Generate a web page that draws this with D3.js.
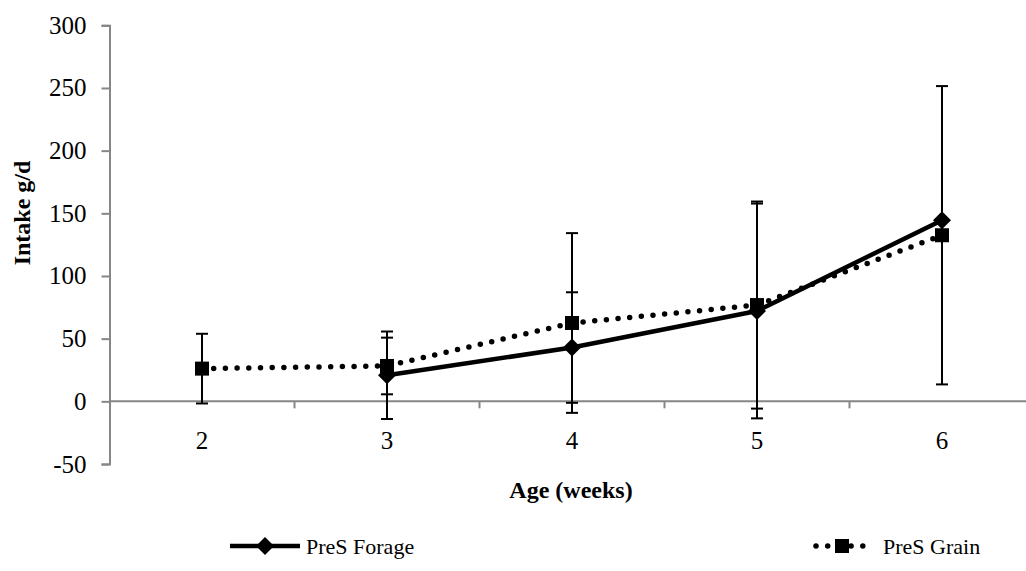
<!DOCTYPE html>
<html>
<head>
<meta charset="utf-8">
<script src="https://cdn.jsdelivr.net/npm/d3@7"></script>
<style>
  html, body { margin: 0; padding: 0; background: #fff; }
  svg { display: block; }
  text { font-family: "Liberation Serif", "Times New Roman", Times, serif; fill: #000; }
</style>
</head>
<body>
<svg id="chart" width="1026" height="571"></svg>
<script>
// Feed intake by age, two pre-weaning treatments (mean ± SD)
const ages = ["2", "3", "4", "5", "6"];
const forageMean = [null, 20.8, 42.9, 72.1, 144.5];
const forageSD   = [null, 34.9, 44.1, 85.7, null];
const grainMean  = [26.1, 28.2, 62.5, 76.8, 132.5];
const grainSD    = [27.8, 22.6, 71.7, 82.6, 119.0];
const yTicks = [-50, 0, 50, 100, 150, 200, 250, 300];
const seriesNames = ["PreS Forage", "PreS Grain"];

const svg = d3.select("#chart");

const x = d3.scaleBand().domain(ages).range([109.5, 1034.5]).paddingInner(0).paddingOuter(0);
const xc = d => x(d) + x.bandwidth() / 2;
const y = d3.scaleLinear().domain([-50, 300]).range([464, 25.3]);

const axisColor = "#868686";

// Y axis (plain hyphen for negatives)
const yAxis = svg.append("g").attr("transform", "translate(109.5,0)")
  .call(d3.axisLeft(y).tickValues(yTicks).tickSize(8).tickPadding(15).tickFormat(d => String(d)));
yAxis.attr("font-family", null);
yAxis.select(".domain").attr("stroke", axisColor).attr("stroke-width", 2);
yAxis.selectAll(".tick line").attr("stroke", axisColor).attr("stroke-width", 2);
yAxis.selectAll(".tick text").attr("font-size", 25);

// X axis along zero, ticks at category boundaries
const xAxisG = svg.append("g");
xAxisG.append("line")
  .attr("x1", 109.5).attr("x2", 1026).attr("y1", y(0)).attr("y2", y(0))
  .attr("stroke", axisColor).attr("stroke-width", 2);
const bounds = ages.map(a => x(a)).concat([x(ages[ages.length - 1]) + x.bandwidth()]);
xAxisG.selectAll("line.tk").data(bounds.slice(1)).join("line").attr("class", "tk")
  .attr("x1", d => d).attr("x2", d => d)
  .attr("y1", y(0)).attr("y2", y(0) + 7)
  .attr("stroke", axisColor).attr("stroke-width", 2);
xAxisG.selectAll("text").data(ages).join("text")
  .attr("x", d => xc(d)).attr("y", 449)
  .attr("text-anchor", "middle").attr("font-size", 25)
  .text(d => d);

// Axis titles
svg.append("text").attr("x", 571).attr("y", 498)
  .attr("text-anchor", "middle").attr("font-size", 24).attr("font-weight", "bold")
  .text("Age (weeks)");
svg.append("text").attr("transform", "translate(30,213) rotate(-90)")
  .attr("text-anchor", "middle").attr("font-size", 24).attr("font-weight", "bold")
  .text("Intake g/d");

// Build point records
const forage = ages.map((a, i) => ({ a, m: forageMean[i], sd: forageSD[i] })).filter(d => d.m != null);
const grain  = ages.map((a, i) => ({ a, m: grainMean[i], sd: grainSD[i] })).filter(d => d.m != null);

const line = d3.line().x(d => xc(d.a)).y(d => y(d.m));

// Error bars
function errorBars(data) {
  const g = svg.append("g").attr("stroke", "#000").attr("stroke-width", 2).attr("fill", "none");
  data.filter(d => d.sd != null).forEach(d => {
    const cx = xc(d.a), top = y(d.m + d.sd), bot = y(d.m - d.sd);
    g.append("line").attr("x1", cx).attr("x2", cx).attr("y1", top).attr("y2", bot);
    g.append("line").attr("x1", cx - 6).attr("x2", cx + 6).attr("y1", top).attr("y2", top);
    g.append("line").attr("x1", cx - 6).attr("x2", cx + 6).attr("y1", bot).attr("y2", bot);
  });
}
errorBars(grain);
errorBars(forage);

// Grain series: dotted line with squares
svg.append("path").datum(grain).attr("d", line)
  .attr("fill", "none").attr("stroke", "#000").attr("stroke-width", 5.5)
  .attr("stroke-linecap", "round").attr("stroke-dasharray", "0 11.7");
svg.selectAll("rect.grain").data(grain).join("rect").attr("class", "grain")
  .attr("x", d => xc(d.a) - 7).attr("y", d => y(d.m) - 7)
  .attr("width", 14).attr("height", 14).attr("fill", "#000");

// Forage series: solid line with diamonds
svg.append("path").datum(forage).attr("d", line)
  .attr("fill", "none").attr("stroke", "#000").attr("stroke-width", 4.5)
  .attr("stroke-linejoin", "round");
const diamond = "M0,-9L9,0L0,9L-9,0Z";
svg.selectAll("path.forage").data(forage).join("path").attr("class", "forage")
  .attr("d", diamond).attr("transform", d => `translate(${xc(d.a)},${y(d.m)})`)
  .attr("fill", "#000");

// Legend
const leg = svg.append("g");
const ly = 546;
leg.append("line").attr("x1", 230).attr("x2", 300).attr("y1", ly).attr("y2", ly)
  .attr("stroke", "#000").attr("stroke-width", 4.5);
leg.append("path").attr("d", diamond).attr("transform", `translate(265,${ly})`).attr("fill", "#000");
leg.append("text").attr("x", 306).attr("y", ly + 8).attr("font-size", 22).text(seriesNames[0]);

leg.append("line").attr("x1", 816).attr("x2", 868).attr("y1", ly).attr("y2", ly)
  .attr("stroke", "#000").attr("stroke-width", 5.5)
  .attr("stroke-linecap", "round").attr("stroke-dasharray", "0 11.7");
leg.append("rect").attr("x", 835).attr("y", ly - 7).attr("width", 14).attr("height", 14).attr("fill", "#000");
leg.append("text").attr("x", 883).attr("y", ly + 8).attr("font-size", 22).text(seriesNames[1]);
</script>
</body>
</html>
